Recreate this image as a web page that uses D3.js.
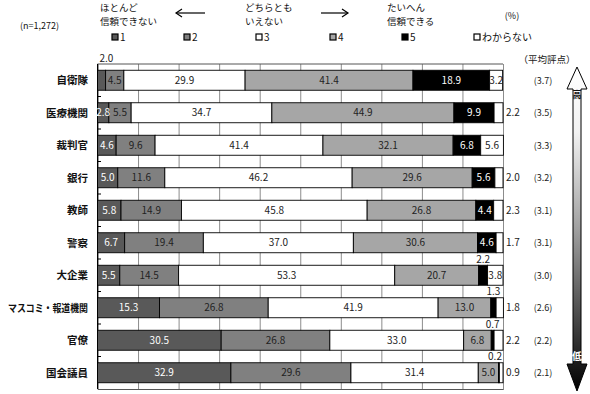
<!DOCTYPE html>
<html lang="ja">
    <head>
        <meta charset="utf-8">
        <title>信頼度</title>
        <script type="text/javascript" src="https://cdn.jsdelivr.net/npm/d3@7"></script>
        <style>
            body { margin: 0; background: #fff; }
            text { font-family: "Noto Sans CJK JP", "Noto Sans", sans-serif; }
        </style>
    </head>
    <body>
        <script type="text/javascript">
            // data (percent of respondents)
            var categories = ["自衛隊", "医療機関", "裁判官", "銀行", "教師", "警察", "大企業", "マスコミ・報道機関", "官僚", "国会議員"];
            var keys = ["1", "2", "3", "4", "5", "わからない"];
            var s1  = [2.0, 2.8, 4.6, 5.0, 5.8, 6.7, 5.5, 15.3, 30.5, 32.9];
            var s2  = [4.5, 5.5, 9.6, 11.6, 14.9, 19.4, 14.5, 26.8, 26.8, 29.6];
            var s3  = [29.9, 34.7, 41.4, 46.2, 45.8, 37.0, 53.3, 41.9, 33.0, 31.4];
            var s4  = [41.4, 44.9, 32.1, 29.6, 26.8, 30.6, 20.7, 13.0, 6.8, 5.0];
            var s5  = [18.9, 9.9, 6.8, 5.6, 4.4, 4.6, 2.2, 1.3, 0.7, 0.2];
            var sDK = [3.2, 2.2, 5.6, 2.0, 2.3, 1.7, 3.8, 1.8, 2.2, 0.9];
            var avgScore = ["(3.7)", "(3.5)", "(3.3)", "(3.2)", "(3.1)", "(3.1)", "(3.0)", "(2.6)", "(2.2)", "(2.1)"];
            var xTicks = [0, 10, 20, 30, 40, 50, 60, 70, 80, 90, 100];

            var fills = ["#595959", "#808080", "#ffffff", "#a6a6a6", "#000000", "#ffffff"];
            var textFill = ["#fff", "#222", "#222", "#222", "#fff", "#222"];

            var series = [s1, s2, s3, s4, s5, sDK];
            var rows = categories.map(function(c, i){
                var r = {cat: c};
                keys.forEach(function(k, j){ r[k] = series[j][i]; });
                return r;
            });

            var w = 590, h = 394;
            var pLeft = 97.5, pRight = 503, pTop = 64, pBottom = 389;

            var svg = d3.select("body").append("svg").attr("width", w).attr("height", h);

            var x = d3.scaleLinear().domain([0, 100]).range([pLeft, pRight]);
            var y = d3.scaleBand().domain(categories).range([pTop, pBottom])
                .paddingInner(0.385).paddingOuter(0.1925);
            var color = d3.scaleOrdinal().domain(keys).range(fills);

            // vertical grid
            svg.append("g")
                .attr("transform", "translate(0," + pBottom + ")")
                .call(d3.axisBottom(x).tickValues(xTicks).tickSize(-(pBottom - pTop)).tickFormat(""))
                .call(function(g){
                    g.select(".domain").attr("stroke", "#555");
                    g.selectAll(".tick line").attr("stroke", "#8c8c8c");
                });
            svg.append("line").attr("x1", pLeft).attr("x2", pRight).attr("y1", pTop).attr("y2", pTop)
                .attr("stroke", "#555");

            // small ticks on the category axis between bands
            svg.append("g").selectAll("line")
                .data(categories.slice(1))
                .enter().append("line")
                .attr("x1", pLeft).attr("x2", pLeft + 3.5)
                .attr("y1", function(d){ return y(d) - y.step() * y.paddingInner() / 2; })
                .attr("y2", function(d){ return y(d) - y.step() * y.paddingInner() / 2; })
                .attr("stroke", "#000");

            var stacked = d3.stack().keys(keys)(rows);

            var layer = svg.append("g").selectAll("g")
                .data(stacked)
                .enter().append("g")
                .attr("fill", function(d){ return color(d.key); });

            layer.selectAll("rect")
                .data(function(d){ return d; })
                .enter().append("rect")
                .attr("x", function(d){ return x(d[0]); })
                .attr("y", function(d){ return y(d.data.cat); })
                .attr("width", function(d){ return x(d[1]) - x(d[0]); })
                .attr("height", y.bandwidth())
                .attr("stroke", "#000")
                .attr("stroke-width", 0.9);

            // left axis line
            svg.append("line").attr("x1", pLeft).attr("x2", pLeft).attr("y1", pTop).attr("y2", pBottom)
                .attr("stroke", "#000");

            // value labels
            var labels = [];
            stacked.forEach(function(s, j){
                s.forEach(function(d){
                    var v = d[1] - d[0];
                    var yc = y(d.data.cat) + y.bandwidth() / 2;
                    var lab = {t: d3.format(".1f")(d.data[s.key]), x: (x(d[0]) + x(d[1])) / 2, y: yc + 3.5,
                               anchor: "middle", fill: textFill[j]};
                    if (j === 0 && v < 2.5) {
                        lab.x = x(d[0]) + 2; lab.anchor = "start"; lab.y = y(d.data.cat) - 8.5; lab.fill = "#222";
                    } else if (j === 4 && v < 3) {
                        lab.x = Math.min(lab.x, pRight - 8); lab.y = y(d.data.cat) - 2.5; lab.fill = "#222";
                    } else if (j === 5 && v < 3) {
                        lab.x = pRight + 3; lab.anchor = "start"; lab.fill = "#222";
                    }
                    labels.push(lab);
                });
            });

            svg.append("g").selectAll("text")
                .data(labels)
                .enter().append("text")
                .attr("x", function(d){ return d.x; })
                .attr("y", function(d){ return d.y; })
                .attr("text-anchor", function(d){ return d.anchor; })
                .attr("fill", function(d){ return d.fill; })
                .attr("font-size", "10px")
                .text(function(d){ return d.t; });

            // category labels
            svg.append("g").selectAll("text")
                .data(categories)
                .enter().append("text")
                .attr("x", 88)
                .attr("y", function(d){ return y(d) + y.bandwidth() / 2 + 4; })
                .attr("text-anchor", "end")
                .attr("font-size", "10.5px")
                .attr("font-weight", "bold")
                .attr("fill", "#111")
                .text(function(d){ return d; })
                .each(function(){
                    // squeeze long names so they stay inside the page
                    if (this.getComputedTextLength() > 80) {
                        d3.select(this).attr("textLength", 80).attr("lengthAdjust", "spacingAndGlyphs");
                    }
                });

            // average scores
            svg.append("g").selectAll("text")
                .data(avgScore)
                .enter().append("text")
                .attr("x", 543)
                .attr("y", function(d, i){ return y(categories[i]) + y.bandwidth() / 2 + 3.5; })
                .attr("text-anchor", "middle")
                .attr("font-size", "9px")
                .attr("fill", "#222")
                .text(function(d){ return d; });

            svg.append("text").attr("x", 547).attr("y", 63).attr("text-anchor", "middle")
                .attr("font-size", "9.5px").attr("fill", "#222").text("（平均評点）");

            // header
            var head = svg.append("g").attr("font-size", "9.5px").attr("fill", "#111");
            head.append("text").attr("x", 20).attr("y", 29).attr("font-size", "9px").text("(n=1,272)");
            [["ほとんど", "信頼できない", 100], ["どちらとも", "いえない", 245], ["たいへん", "信頼できる", 387]]
                .forEach(function(p){
                    head.append("text").attr("x", p[2]).attr("y", 11).text(p[0]);
                    head.append("text").attr("x", p[2]).attr("y", 25).text(p[1]);
                });
            head.append("text").attr("x", 512).attr("y", 19).attr("text-anchor", "middle")
                .attr("font-size", "9px").text("(%)");

            [[205, 176], [321, 348]].forEach(function(a){
                var dir = a[1] > a[0] ? 1 : -1;
                head.append("line").attr("x1", a[0]).attr("x2", a[1]).attr("y1", 13).attr("y2", 13)
                    .attr("stroke", "#000").attr("stroke-width", 1.2);
                head.append("path")
                    .attr("d", "M" + (a[1] - dir * 6) + ",9 L" + a[1] + ",13 L" + (a[1] - dir * 6) + ",17")
                    .attr("fill", "none").attr("stroke", "#000").attr("stroke-width", 1.2);
            });

            // legend
            var legX = [112, 184, 256, 330, 402, 474];
            var leg = svg.append("g").selectAll("g")
                .data(keys)
                .enter().append("g")
                .attr("transform", function(d, i){ return "translate(" + legX[i] + ",37)"; });
            leg.append("rect").attr("x", 0).attr("y", -3).attr("width", 6).attr("height", 6)
                .attr("fill", function(d){ return color(d); })
                .attr("stroke", "#000").attr("stroke-width", 1.2);
            leg.append("text").attr("x", 8).attr("y", 4).attr("font-size", "10px").attr("fill", "#111")
                .text(function(d){ return d; });

            // high / low arrow
            var defs = svg.append("defs");
            var grad = defs.append("linearGradient").attr("id", "arrowGrad")
                .attr("gradientUnits", "userSpaceOnUse")
                .attr("x1", 0).attr("x2", 0).attr("y1", 67).attr("y2", 391);
            [[0, "#ffffff"], [0.2, "#f2f2f2"], [0.5, "#a0a0a0"], [0.8, "#404040"], [1, "#000000"]].forEach(function(s){
                grad.append("stop").attr("offset", s[0]).attr("stop-color", s[1]);
            });
            var cx = 577;
            var arrow = [[cx, 67], [cx + 10, 89], [cx + 4, 89], [cx + 4, 364], [cx + 10, 364], [cx, 391],
                         [cx - 10, 364], [cx - 4, 364], [cx - 4, 89], [cx - 10, 89]];
            svg.append("path")
                .attr("d", d3.line()(arrow) + "Z")
                .attr("fill", "url(#arrowGrad)")
                .attr("stroke", "#000").attr("stroke-width", 1);
            svg.append("text").attr("x", cx).attr("y", 98).attr("text-anchor", "middle")
                .attr("font-size", "9px").attr("font-weight", "bold").attr("fill", "#111").text("高");
            svg.append("text").attr("x", cx).attr("y", 360).attr("text-anchor", "middle")
                .attr("font-size", "10px").attr("font-weight", "bold").attr("fill", "#fff").text("低");
        </script>
    </body>
</html>
